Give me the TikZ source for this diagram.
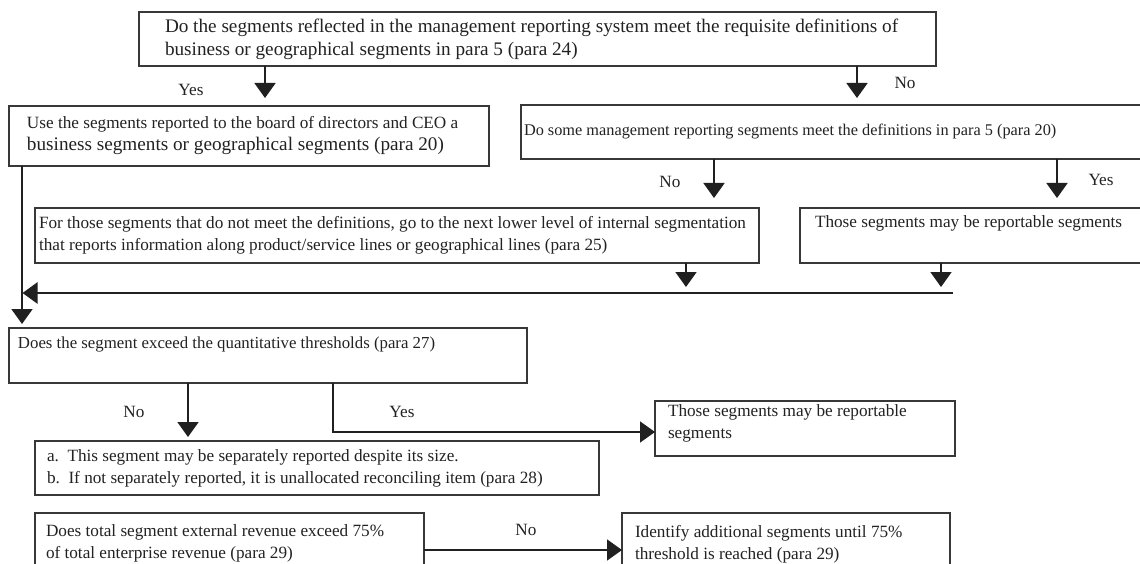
\documentclass[tikz,border=0pt]{standalone}
\usepackage{fontspec}
\setmainfont{Liberation Serif}
\usetikzlibrary{arrows.meta}
\definecolor{boxc}{HTML}{383838}
\definecolor{linec}{HTML}{202020}
\definecolor{txtc}{HTML}{222222}
\newcommand{\fs}{\fontsize{17.2}{22}\selectfont}
\newcommand{\fsbig}{\fontsize{19.2}{23}\selectfont}
\begin{document}
\begin{tikzpicture}[x=1pt,y=-1pt,
  box/.style={draw=boxc, line width=1.7pt, anchor=north west, inner sep=0pt, outer sep=0pt, font=\fs, text=txtc},
  lbl/.style={font=\fs, inner sep=0pt, text=txtc},
  arr/.style={draw=linec, line width=1.8pt, -{Triangle[length=15pt,width=21pt]}},
]
\path[use as bounding box, fill=white] (0,0) rectangle (1140,564);
\clip (0,0) rectangle (1140,564);

% boxes
\node[box] (top) at (139,12) {\parbox[c][54pt][c]{797pt}{\fsbig\raggedright\leftskip=26pt
  Do the segments reflected in the management reporting system meet the requisite definitions of\\
  business or geographical segments in para 5 (para 24)}};
\node[box, line width=2.5pt] (use) at (9,106) {\parbox[c][60pt][c]{480pt}{\raggedright\leftskip=18pt
  Use the segments reported to the board of directors and CEO a\\
  {\fsbig business segments or geographical segments (para 20)}}};
\node[box] (dosome) at (521,105) {\parbox[c][54pt][c]{624pt}{\fontsize{16.3}{22}\selectfont\raggedright\leftskip=3pt
  Do some management reporting segments meet the definitions in para 5 (para 20)}};
\node[box] (for) at (35,208) {\parbox[c][55pt][c]{724pt}{\raggedright\leftskip=4pt
  For those segments that do not meet the definitions, go to the next lower level of internal segmentation\\
  that reports information along product/service lines or geographical lines (para 25)}};
\node[box] (those1) at (800,208) {\parbox[c][55pt][t]{345pt}{\raggedright\leftskip=15pt\vspace*{8pt}
  Those segments may be reportable segments}};
\node[box] (does) at (9,328) {\parbox[c][55pt][t]{518pt}{\fontsize{16.8}{22}\selectfont\raggedright\leftskip=9pt\vspace*{9pt}
  Does the segment exceed the quantitative thresholds (para 27)}};
\node[box] (those2) at (655,401) {\parbox[c][55pt][t]{300pt}{\raggedright\leftskip=13pt\vspace*{4pt}
  Those segments may be reportable\\ segments}};
\node[box] (recon) at (35,441) {\parbox[c][54pt][c]{564pt}{\raggedright\leftskip=12pt
  a.\ \ This segment may be separately reported despite its size.\\
  b.\ \ If not separately reported, it is unallocated reconciling item (para 28)}};
\node[box] (total) at (35,513) {\parbox[c][70pt][t]{389pt}{\raggedright\leftskip=11pt\vspace*{12pt}
  Does total segment external revenue exceed 75\%\\ of total enterprise revenue (para 29)}};
\node[box] (identify) at (622,513) {\parbox[c][70pt][t]{328pt}{\raggedright\leftskip=13pt\vspace*{12pt}
  Identify additional segments until 75\%\\ threshold is reached (para 29)}};

% helper coordinates
\coordinate (c1) at (265,0);
\coordinate (c2) at (857,0);
\coordinate (c3) at (714,0);
\coordinate (c4) at (1057,0);
\coordinate (c5) at (686,0);
\coordinate (c6) at (941,0);
\coordinate (c7) at (188,0);
\coordinate (c8) at (333,0);
\coordinate (vx) at (22,0);
\coordinate (mR) at (953,293);
\coordinate (y432) at (0,432);
\coordinate (y550) at (0,550);

% connectors
\draw[arr, shorten >=8pt] (top.south -| c1) -- (use.north -| c1);
\draw[arr, shorten >=7pt] (top.south -| c2) -- (dosome.north -| c2);
\draw[arr, shorten >=10pt] (dosome.south -| c3) -- (for.north -| c3);
\draw[arr, shorten >=10pt] (dosome.south -| c4) -- (those1.north -| c4);
\draw[arr, shorten >=6pt] (for.south -| c5) -- (c5 |- mR);
\draw[arr, shorten >=6pt] (those1.south -| c6) -- (c6 |- mR);
\draw[arr, line width=2.7pt, shorten >=0.5pt] (mR) -- (mR -| vx);
\draw[arr, shorten >=4pt] (use.south -| vx) -- (does.north -| vx);
\draw[arr, shorten >=4pt] (does.south -| c7) -- (recon.north -| c7);
\draw[arr, line width=1.5pt] (does.south -| c8) |- (those2.west |- y432);
\draw[arr, line width=1.5pt] (total.east |- y550) -- (identify.west |- y550);

% labels
\node[lbl] (lyes1) at (191,90) {Yes};
\node[lbl] (lno1) at (905,83) {No};
\node[lbl] (lno2) at (670,182) {No};
\node[lbl] (lyes2) at (1101,180) {Yes};
\node[lbl] (lno3) at (134,412) {No};
\node[lbl] (lyes3) at (402,412) {Yes};
\node[lbl] (lno4) at (526,530) {No};
\end{tikzpicture}
\end{document}
